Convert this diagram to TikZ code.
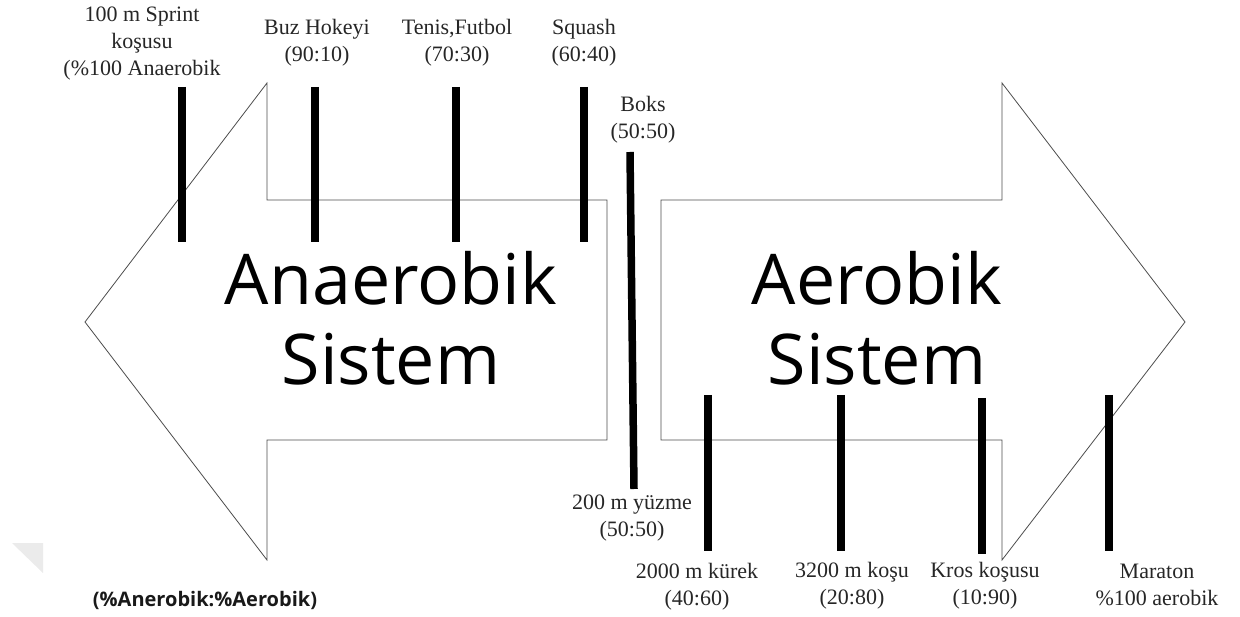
\documentclass[tikz,border=0pt]{standalone}
\usepackage{fontspec}
\setmainfont{Liberation Serif}
\newfontfamily\osans{Open Sans}
\begin{document}
\begin{tikzpicture}[x=1pt,y=-1pt,
  outline/.style={draw=black!70,line width=0.8pt},
  bar/.style={line width=7.5pt,black},
  lbl/.style={font=\fontsize{22}{27}\selectfont,align=center,inner sep=0pt,text=black!85},
  big/.style={font=\osans\fontsize{70}{80}\selectfont,align=center,inner sep=0pt}]
\useasboundingbox (0,0) rectangle (1240,617);
% faint watermark triangle
\fill[black!8] (12,543) -- (43,543) -- (43,573) -- cycle;
% arrows
\draw[outline] (607,200) -- (267,200) -- (267,83) -- (85,322) -- (267,560) -- (267,440) -- (607,440) -- cycle;
\draw[outline] (661,200) -- (1002,200) -- (1002,83) -- (1185,322) -- (1002,560) -- (1002,440) -- (661,440) -- cycle;
% big text
\node[big] (ana) at (391,318) {Anaerobik\\Sistem};
\node[big] (aer) at (877,318) {Aerobik\\Sistem};
% bars
\draw[bar] (182,87) -- (182,242);
\draw[bar] (315,87) -- (315,242);
\draw[bar] (456,87) -- (456,242);
\draw[bar] (584,87) -- (584,242);
\draw[bar] (630,152) -- (634,489);
\draw[bar] (708,395) -- (708,551);
\draw[bar] (841,395) -- (841,551);
\draw[bar] (982,398) -- (982,554);
\draw[bar] (1109,395) -- (1109,551);
% labels
\node[lbl] (l1) at (142,44) {100 m Sprint\\koşusu\\(\%100 Anaerobik};
\node[lbl] (l2) at (317,43) {Buz Hokeyi\\(90:10)};
\node[lbl] (l3) at (457,43) {Tenis,Futbol\\(70:30)};
\node[lbl] (l4) at (584,43) {Squash\\(60:40)};
\node[lbl] (l5) at (643,120) {Boks\\(50:50)};
\node[lbl] (l6) at (632,518) {200 m yüzme\\(50:50)};
\node[lbl] (l7) at (697,587) {2000 m kürek\\(40:60)};
\node[lbl] (l8) at (852,586) {3200 m koşu\\(20:80)};
\node[lbl] (l9) at (985,586) {Kros koşusu\\(10:90)};
\node[lbl] (l10) at (1157,585) {Maraton\\\%100 aerobik};
\node[font=\osans\bfseries\fontsize{20}{24}\selectfont,inner sep=0pt,text=black!90] (leg) at (205,600) {(\%Anerobik:\%Aerobik)};
\end{tikzpicture}
\end{document}
